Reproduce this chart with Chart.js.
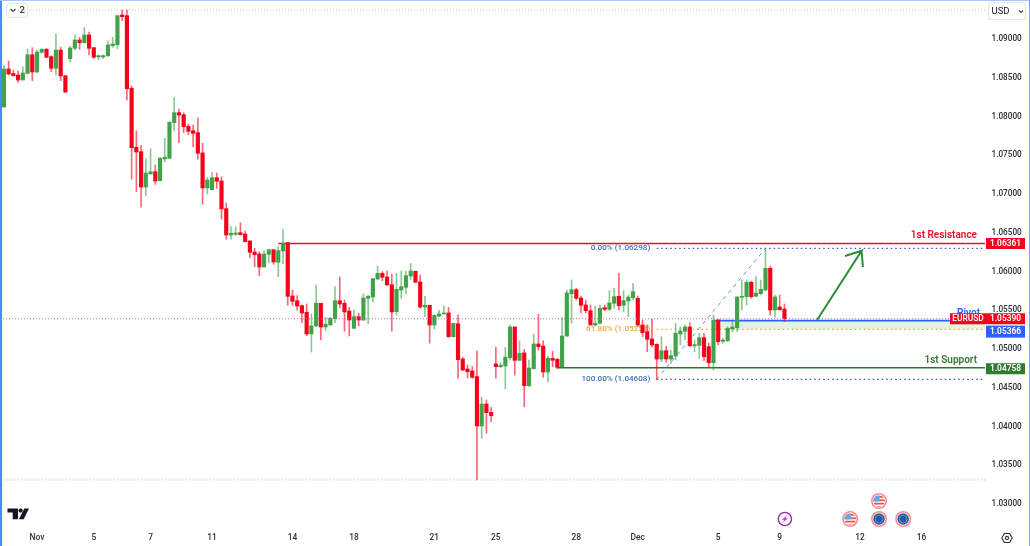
<!DOCTYPE html>
<html><head><meta charset="utf-8">
<style>html,body{margin:0;padding:0;background:#fff;overflow:hidden}canvas{display:block}
#l{position:absolute;left:0;top:0;width:2px;height:546px;background:#4d88ff}
#t{position:absolute;left:0;top:0;width:1030px;height:1px;background:#a9c4ff}
#r{position:absolute;right:0;top:0;width:1.5px;height:546px;background:#7ba6ff}</style>
<script src="https://cdn.jsdelivr.net/npm/chart.js@4"></script></head>
<body><canvas id="c" width="1030" height="546"></canvas><div id="l"></div><div id="t"></div><div id="r"></div>
<script>
const opens=[1.08123,1.08613,1.08555,1.08535,1.08471,1.08557,1.08797,1.08574,1.08828,1.08867,
1.08772,1.08622,1.08858,1.08526,1.08746,1.08880,1.08987,1.08952,1.09052,1.08888,
1.08768,1.08768,1.08785,1.08914,1.08926,1.09310,1.09301,1.08364,1.07603,1.07546,
1.07090,1.07258,1.07288,1.07172,1.07452,1.07461,1.07920,1.08049,1.08023,1.07874,
1.07817,1.07791,1.07529,1.07078,1.07056,1.07210,1.07168,1.06811,1.06471,1.06480,
1.06501,1.06484,1.06394,1.06251,1.06226,1.06058,1.06222,1.06281,1.06119,1.06265,
1.06372,1.05684,1.05623,1.05559,1.05474,1.05194,1.05297,1.05590,1.05284,1.05310,
1.05391,1.05623,1.05590,1.05490,1.05267,1.05417,1.05374,1.05654,1.05671,1.05903,
1.05977,1.05929,1.05830,1.05482,1.05761,1.05796,1.05942,1.06002,1.05865,1.05542,
1.05564,1.05310,1.05426,1.05452,1.05465,1.05159,1.05326,1.04871,1.04742,1.04716,
1.04643,1.04007,1.04290,1.04183,1.04807,1.04772,1.04781,1.04888,1.05284,1.04854,
1.04949,1.04527,1.04746,1.05065,1.05039,1.04703,1.04880,1.04867,1.04772,1.05168,
1.05713,1.05765,1.05658,1.05568,1.05494,1.05310,1.05332,1.05533,1.05512,1.05590,
1.05680,1.05564,1.05620,1.05662,1.05654,1.05310,1.05223,1.05129,1.05061,1.04871,
1.04978,1.04871,1.04910,1.05194,1.05229,1.05284,1.05039,1.05048,1.05146,1.05030,
1.04823,1.05374,1.05099,1.05107,1.05258,1.05275,1.05667,1.05675,1.05861,1.05680,
1.05714,1.05761,1.06041,1.05503,1.05542,1.05516];
const highs=[1.08664,1.08716,1.08600,1.08587,1.08639,1.08871,1.08888,1.08858,1.08875,1.08880,
1.08781,1.09065,1.08893,1.08532,1.08910,1.09052,1.09022,1.09151,1.09090,1.08893,
1.08794,1.08794,1.08974,1.09022,1.09301,1.09374,1.09374,1.08394,1.07813,1.07623,
1.07452,1.07584,1.07374,1.07474,1.07719,1.07933,1.08248,1.08093,1.08049,1.07903,
1.07890,1.07981,1.07654,1.07216,1.07280,1.07271,1.07223,1.06884,1.06578,1.06578,
1.06630,1.06523,1.06397,1.06299,1.06255,1.06265,1.06287,1.06287,1.06320,1.06544,
1.06377,1.05757,1.05688,1.05568,1.05581,1.05452,1.05826,1.05590,1.05409,1.05409,
1.05804,1.05929,1.05632,1.05538,1.05503,1.05461,1.05710,1.05693,1.05912,1.06067,
1.05997,1.06006,1.05964,1.05977,1.06006,1.06006,1.06101,1.06006,1.05955,1.05680,
1.05564,1.05439,1.05500,1.05555,1.05538,1.05335,1.05442,1.04893,1.04793,1.04772,
1.04974,1.04377,1.04342,1.04248,1.05022,1.04820,1.05022,1.05310,1.05288,1.05107,
1.04996,1.04858,1.05194,1.05448,1.05107,1.04910,1.04970,1.04880,1.05409,1.05761,
1.05890,1.05783,1.05684,1.05632,1.05568,1.05555,1.05568,1.05568,1.05752,1.05783,
1.05977,1.05752,1.05697,1.05848,1.05684,1.05374,1.05310,1.05387,1.05065,1.05159,
1.05030,1.04978,1.05332,1.05288,1.05310,1.05339,1.05116,1.05203,1.05203,1.05074,
1.05439,1.05383,1.05142,1.05288,1.05352,1.05675,1.05890,1.05890,1.05877,1.05933,
1.05890,1.06299,1.06071,1.05697,1.05697,1.05581];
const lows=[1.08116,1.08535,1.08523,1.08439,1.08471,1.08548,1.08462,1.08561,1.08815,1.08759,
1.08578,1.08532,1.08462,1.08307,1.08703,1.08858,1.08867,1.08945,1.08794,1.08751,
1.08729,1.08746,1.08772,1.08893,1.08875,1.09236,1.08213,1.07190,1.07030,1.06829,
1.06978,1.07258,1.07125,1.07168,1.07413,1.07452,1.07817,1.07662,1.07791,1.07765,
1.07610,1.07448,1.06867,1.07000,1.07052,1.07074,1.06678,1.06416,1.06416,1.06462,
1.06471,1.06381,1.06174,1.06062,1.05946,1.06058,1.06114,1.06093,1.05933,1.06097,
1.05564,1.05564,1.05503,1.05339,1.05172,1.04962,1.05288,1.05116,1.05236,1.05306,
1.05339,1.05533,1.05229,1.05168,1.05262,1.05297,1.05365,1.05323,1.05607,1.05899,
1.05881,1.05822,1.05232,1.05439,1.05654,1.05710,1.05899,1.05856,1.05525,1.05417,
1.05074,1.05258,1.05417,1.05452,1.05151,1.05151,1.04622,1.04720,1.04626,1.04622,
1.03310,1.03848,1.03912,1.04062,1.04622,1.04755,1.04484,1.04858,1.04665,1.04849,
1.04256,1.04514,1.04738,1.04987,1.04635,1.04578,1.04772,1.04746,1.04764,1.05159,
1.05332,1.05632,1.05468,1.05468,1.05310,1.05297,1.05323,1.05494,1.05494,1.05525,
1.05503,1.05481,1.05417,1.05632,1.05288,1.05159,1.04965,1.05026,1.04608,1.04836,
1.04829,1.04815,1.04858,1.05052,1.05116,1.05030,1.04966,1.04880,1.04845,1.04772,
1.04729,1.05052,1.05074,1.05094,1.05223,1.05223,1.05503,1.05568,1.05654,1.05675,
1.05697,1.05752,1.05439,1.05409,1.05503,1.05352];
const closes=[1.08613,1.08548,1.08526,1.08471,1.08561,1.08797,1.08574,1.08832,1.08867,1.08764,
1.08622,1.08858,1.08523,1.08316,1.08884,1.08987,1.08952,1.09052,1.08880,1.08764,
1.08785,1.08785,1.08923,1.08936,1.09301,1.09288,1.08359,1.07597,1.07542,1.07090,
1.07271,1.07288,1.07168,1.07461,1.07474,1.07925,1.08049,1.08019,1.07868,1.07809,
1.07783,1.07525,1.07078,1.07181,1.07210,1.07164,1.06807,1.06471,1.06493,1.06497,
1.06475,1.06385,1.06248,1.06217,1.06058,1.06226,1.06281,1.06123,1.06269,1.06364,
1.05680,1.05616,1.05555,1.05465,1.05194,1.05297,1.05590,1.05284,1.05319,1.05396,
1.05623,1.05581,1.05478,1.05374,1.05417,1.05374,1.05658,1.05680,1.05907,1.05977,
1.05925,1.05826,1.05478,1.05770,1.05804,1.05946,1.06006,1.05861,1.05542,1.05564,
1.05310,1.05435,1.05452,1.05465,1.05159,1.05331,1.04862,1.04729,1.04707,1.04635,
1.04007,1.04290,1.04178,1.04139,1.04772,1.04790,1.04893,1.05284,1.04854,1.04945,
1.04527,1.04755,1.05065,1.05030,1.04703,1.04880,1.04854,1.04764,1.05168,1.05723,
1.05765,1.05654,1.05564,1.05494,1.05310,1.05332,1.05525,1.05512,1.05594,1.05675,
1.05559,1.05623,1.05671,1.05740,1.05310,1.05211,1.05125,1.05052,1.04871,1.04978,
1.04871,1.04914,1.05202,1.05232,1.05284,1.05043,1.05056,1.05146,1.04901,1.04823,
1.05371,1.05094,1.05116,1.05267,1.05284,1.05671,1.05680,1.05861,1.05675,1.05722,
1.05770,1.06041,1.05503,1.05671,1.05507,1.05390];

const yTicks=[1.03,1.035,1.04,1.045,1.05,1.055,1.06,1.065,1.07,1.075,1.08,1.085,1.09];
const xTickIndex=[7,19,31,44,61,74,91,104,121,134,151,164,181,194];
const xTickLabels=['Nov','5','7','11','14','18','21','25','28','Dec','5','9','12','16'];
const yMin=1.02729,yMax=1.09503,xMin=-0.825,xMax=207.4;

const resistance=1.06361,pivot=1.05366,support=1.04758,lastPrice=1.05390;
const fib0=1.06298,fib618=1.05254,fib100=1.04608;
const topDotted=1.09374,bottomDotted=1.0331;
const resistanceStart=58,supportStart=117,pivotStart=150,zoneStart=150,fibStart=138,fibEnd=161;
const arrowIdx=[171.9,181.3,177.8,181.3,181.6];
const arrowVal=[1.05374,1.06268,1.06200,1.06268,1.06058];
const eventIdx=[165.1,178.9,185,185,190.1];
const eventKind=['bolt','us','us','eu','eu'];
const eventRow=[0,0,1,0,0];

const RED='#f7001c',GREEN='#41a349',BLUE='#2962ff',DGREEN='#1f7a2c',LINE_RED='#e5112d';
const xs=opens.map((_,i)=>i);
const cols=opens.map((o,i)=>closes[i]>=o?GREEN:RED);
const wickCols=opens.map((o,i)=>closes[i]>=o?'rgba(65,163,73,.6)':'rgba(247,0,28,.6)');
const seg=(a,b,v)=>[{x:a,y:v},{x:b,y:v}];
const line=(data,color,width,dash,order,extra)=>Object.assign({type:'line',data,borderColor:color,borderWidth:width,borderDash:dash||[],pointRadius:0,fill:false,tension:0,order},extra||{});

const FONT='Roboto, "Liberation Sans", sans-serif';
function tag(ctx,x,yc,w,h,bg,txt){ctx.fillStyle=bg;ctx.fillRect(x,yc-h/2,w,h);ctx.fillStyle='#fff';ctx.textAlign='center';ctx.textBaseline='middle';ctx.font='600 8.4px '+FONT;ctx.fillText(txt,x+w/2,yc+.5);}
function rr(ctx,x,y,w,h,r){ctx.beginPath();ctx.roundRect(x,y,w,h,r);}
function icon(ctx,kind,x,y){
  ctx.save();
  if(kind==='bolt'){
    ctx.strokeStyle='#9c27b0';ctx.lineWidth=1.4;ctx.beginPath();ctx.arc(x,y,6.6,0,7);ctx.stroke();
    ctx.fillStyle='#a53bc0';ctx.beginPath();ctx.moveTo(x+2.6,y-4);ctx.lineTo(x-3,y+.8);ctx.lineTo(x-.4,y+.8);ctx.lineTo(x-2.6,y+4);ctx.lineTo(x+3,y-.8);ctx.lineTo(x+.4,y-.8);ctx.closePath();ctx.fill();
  }else{
    ctx.fillStyle='#ff8a95';ctx.beginPath();ctx.arc(x,y,8,0,7);ctx.fill();
    ctx.fillStyle='#fff';ctx.beginPath();ctx.arc(x,y,6.4,0,7);ctx.fill();
    ctx.beginPath();ctx.arc(x,y,5.8,0,7);ctx.clip();
    if(kind==='us'){
      ctx.fillStyle='#f3f3f3';ctx.fillRect(x-7,y-7,14,14);
      ctx.fillStyle='#ef5350';for(let k=-5;k<6;k+=3.4)ctx.fillRect(x-7,y+k,14,1.7);
      ctx.fillStyle='#64a8f0';ctx.fillRect(x-7,y-7,7.5,7.5);
    }else{
      ctx.fillStyle='#1c5bb0';ctx.fillRect(x-7,y-7,14,14);
      ctx.fillStyle='#ffc93c';for(let a=0;a<12;a++){ctx.beginPath();ctx.arc(x+3.8*Math.cos(a*Math.PI/6),y+3.8*Math.sin(a*Math.PI/6),.55,0,7);ctx.fill();}
    }
  }
  ctx.restore();
}
const overlay={id:'overlay',
  beforeDatasetsDraw(ch){
    const c=ch.ctx,X=ch.scales.x,Y=ch.scales.y;c.save();c.font='500 8.1px '+FONT;c.textAlign='right';c.textBaseline='middle';
    const xr=X.getPixelForValue(fibStart)-6.5;
    c.fillStyle='#3f6fc0';c.fillText('0.00% (1.06298)',xr,Y.getPixelForValue(fib0));
    c.fillText('100.00% (1.04608)',xr,Y.getPixelForValue(fib100));
    c.fillStyle='#eaa936';c.fillText('61.80% (1.05254)',xr,Y.getPixelForValue(fib618));
    c.restore();
  },
  afterDraw(ch){
    const c=ch.ctx,X=ch.scales.x,Y=ch.scales.y;c.save();
    const rightTextX=977;c.textAlign='right';c.textBaseline='alphabetic';
    c.font='600 10px '+FONT;
    c.fillStyle='#2962ff';c.fillText('Pivot',980,Y.getPixelForValue(pivot)-5);
    c.fillStyle='#e5112d';c.fillText('1st Resistance',rightTextX,Y.getPixelForValue(resistance)-6);
    c.fillStyle='#2e7d32';c.fillText('1st Support',rightTextX,Y.getPixelForValue(support)-5);
    const ax=986,aw=39;
    tag(c,ax,Y.getPixelForValue(resistance),aw,11,'#f7001c',resistance.toFixed(5));
    tag(c,950,Y.getPixelForValue(lastPrice),36,11,'#f7001c','EURUSD');
    tag(c,ax,Y.getPixelForValue(lastPrice),aw,11,'#f7001c',lastPrice.toFixed(5));
    tag(c,ax,Y.getPixelForValue(pivot)+11,aw,12,'#2962ff',pivot.toFixed(5));
    tag(c,ax,Y.getPixelForValue(support)+1,aw,11,'#2e7d32',support.toFixed(5));
    c.strokeStyle='#e0e3eb';c.lineWidth=1;rr(c,6.5,3.5,21,14,3);c.stroke();
    c.strokeStyle='#444';c.lineWidth=1.1;c.beginPath();c.moveTo(10.5,9);c.lineTo(13,11.5);c.lineTo(15.5,9);c.stroke();
    c.fillStyle='#444';c.font='600 9.5px '+FONT;c.textAlign='left';c.textBaseline='middle';c.fillText('2',19.5,10.5);
    c.fillStyle='#fff';rr(c,988.5,2.5,37,17,3);c.fill();c.strokeStyle='#e0e3eb';c.stroke();
    c.fillStyle='#131722';c.font='9.5px '+FONT;c.fillText('USD',991.5,11.5);
    c.strokeStyle='#444';c.beginPath();c.moveTo(1019,10.5);c.lineTo(1021,12.5);c.lineTo(1023,10.5);c.stroke();
    const base=519;eventIdx.forEach((v,i)=>icon(c,eventKind[i],X.getPixelForValue(v),base-18*eventRow[i]));
    c.fillStyle='#131722';
    c.beginPath();c.moveTo(7.5,508.5);c.lineTo(18,508.5);c.lineTo(18,519.3);c.lineTo(12.7,519.3);c.lineTo(12.7,512.6);c.lineTo(7.5,512.6);c.closePath();c.fill();
    c.beginPath();c.arc(20.6,510.6,2.1,0,7);c.fill();
    c.beginPath();c.moveTo(24.3,508.5);c.lineTo(29,508.5);c.lineTo(23.6,519.3);c.lineTo(18.9,519.3);c.closePath();c.fill();
    c.strokeStyle='#333';c.lineWidth=1.1;c.beginPath();for(let a=0;a<6;a++){const t=a*Math.PI/3;const px=1007+5.2*Math.cos(t),py=538+5.2*Math.sin(t);a?c.lineTo(px,py):c.moveTo(px,py);}c.closePath();c.stroke();
    c.beginPath();c.arc(1007,538,1.6,0,7);c.stroke();
    c.restore();
  }};

new Chart(document.getElementById('c'),{
  type:'bar',
  data:{datasets:[
    line(seg(zoneStart,xMax,pivot),'rgba(0,0,0,0)',0,[],20,{fill:{target:{value:fib618}},backgroundColor:'rgba(76,175,80,.16)'}),
    line(seg(xMin,xMax,topDotted),'#b9bcc4',1,[1,2],19),
    line(seg(xMin,xMax,bottomDotted),'#b9bcc4',1,[1,2],19),
    line(seg(fibStart,xMax,fib0),'#2c5fd0',1.3,[1.5,3],18),
    line(seg(fibStart,xMax,fib100),'#2c5fd0',1.3,[1.5,3],18),
    line(seg(fibStart,xMax,fib618),'#e8ac3a',1.3,[1.5,3],18),
    line([{x:fibStart,y:fib100},{x:fibEnd,y:fib0}],'#6f8fd0',1,[4,4],17),
    line(seg(resistanceStart,xMax,resistance),LINE_RED,1.5,[],16),
    line(seg(supportStart,xMax,support),DGREEN,1.5,[],16),
    line(seg(pivotStart,xMax,pivot),BLUE,1.6,[],16),
    {type:'bar',data:xs.map(i=>({x:i,y:[lows[i],highs[i]]})),backgroundColor:wickCols,barThickness:1,grouped:false,order:10,borderWidth:0},
    {type:'bar',data:xs.map(i=>({x:i,y:[Math.min(opens[i],closes[i]),Math.max(opens[i],closes[i])]})),backgroundColor:cols,barThickness:3.5,grouped:false,order:9,borderWidth:0},
    line(seg(xMin,xMax,lastPrice),'#c765b0',1,[1,2],5),
    line(arrowIdx.map((x,i)=>({x,y:arrowVal[i]})),'#2e8b3a',2,[],4)
  ]},
  options:{responsive:false,animation:false,devicePixelRatio:1,events:[],
    layout:{padding:0},
    plugins:{legend:{display:false},tooltip:{enabled:false}},
    scales:{
      x:{type:'linear',min:xMin,max:xMax,offset:false,grid:{display:false,drawTicks:false},border:{display:false},
        afterFit:s=>{s.height=21;s.paddingLeft=0;s.paddingRight=0;},
        afterBuildTicks:s=>{s.ticks=xTickIndex.map(v=>({value:v}));},
        ticks:{autoSkip:false,maxRotation:0,padding:8,color:'#2a2e39',font:{family:FONT,size:8.4,weight:'500'},
          callback:v=>xTickLabels[xTickIndex.indexOf(v)]||''}},
      y:{type:'linear',position:'right',min:yMin,max:yMax,grid:{display:false,drawTicks:false},border:{display:false},
        afterFit:s=>{s.width=45;s.paddingTop=0;s.paddingBottom=0;},
        afterBuildTicks:s=>{s.ticks=yTicks.map(v=>({value:v}));},
        ticks:{autoSkip:false,padding:6.5,color:'#2a2e39',font:{family:FONT,size:8.2,weight:'500'},callback:v=>v.toFixed(5)}}
    }},
  plugins:[overlay]
});
</script></body></html>
